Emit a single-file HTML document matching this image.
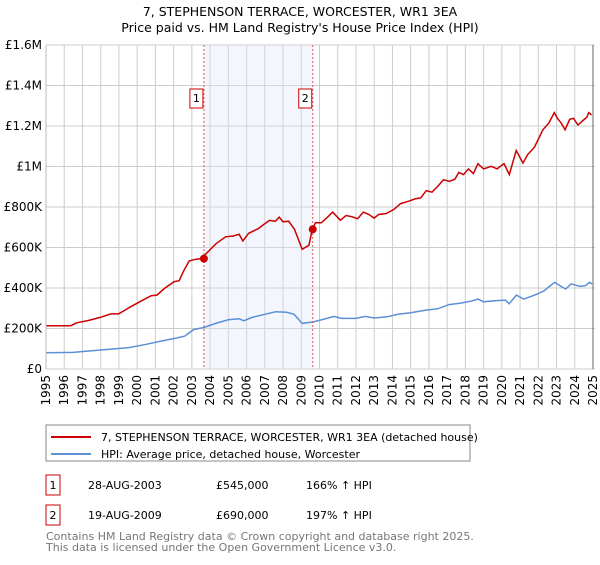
<!DOCTYPE html>
<html><head><meta charset="utf-8"><style>
body{margin:0;background:#fff;font-family:"Liberation Sans","DejaVu Sans",sans-serif;}
svg text{font-family:"DejaVu Sans","Liberation Sans",sans-serif;}
</style></head><body>
<svg id="c" width="600" height="560" viewBox="0 0 600 560" xmlns="http://www.w3.org/2000/svg">
<text x="300" y="16" text-anchor="middle" font-size="12.5">7, STEPHENSON TERRACE, WORCESTER, WR1 3EA</text>
<text x="300" y="32" text-anchor="middle" font-size="12.5">Price paid vs. HM Land Registry's House Price Index (HPI)</text>
<g id="grid"></g><g id="band"></g><g id="series"></g><g id="axes"></g>
<rect x="46" y="425" width="424" height="36" fill="#fff" stroke="#888"/>
<line x1="51" y1="437" x2="91" y2="437" stroke="#cc0000" stroke-width="2"/>
<text x="101" y="441" font-size="11">7, STEPHENSON TERRACE, WORCESTER, WR1 3EA (detached house)</text>
<line x1="51" y1="454" x2="91" y2="454" stroke="#5b8fd6" stroke-width="2"/>
<text x="101" y="458" font-size="11">HPI: Average price, detached house, Worcester</text>
<g font-size="11">
<rect x="46" y="475" width="14" height="20" fill="#fff" stroke="#cc0000"/>
<text x="53" y="489" text-anchor="middle">1</text>
<text x="88" y="489">28-AUG-2003</text>
<text x="216" y="489">£545,000</text>
<text x="306" y="489">166% ↑ HPI</text>
<rect x="46" y="505" width="14" height="20" fill="#fff" stroke="#cc0000"/>
<text x="53" y="519" text-anchor="middle">2</text>
<text x="88" y="519">19-AUG-2009</text>
<text x="216" y="519">£690,000</text>
<text x="306" y="519">197% ↑ HPI</text>
</g>
<text x="46" y="540" font-size="11" fill="#777">Contains HM Land Registry data © Crown copyright and database right 2025.</text>
<text x="46" y="551" font-size="11" fill="#777">This data is licensed under the Open Government Licence v3.0.</text>
</svg>
<script>
const yTicks=[0,200,400,600,800,1000,1200,1400,1600];
const yTickLabels=["£0","£200K","£400K","£600K","£800K","£1M","£1.2M","£1.4M","£1.6M"];
const years=[1995,1996,1997,1998,1999,2000,2001,2002,2003,2004,2005,2006,2007,2008,2009,2010,2011,2012,2013,2014,2015,2016,2017,2018,2019,2020,2021,2022,2023,2024,2025];
const saleDates=[2003.66,2009.63];
const salePrices=[545,690];
const saleLabels=["1","2"];
const redT=[1995,1996.36,1996.68,1997.3,1997.98,1998.56,1998.98,1999.6,2000.24,2000.77,2001.08,2001.5,2002.02,2002.3,2002.55,2002.86,2003.22,2003.55,2003.8,2004.33,2004.85,2005.27,2005.59,2005.8,2006.11,2006.64,2006.95,2007.26,2007.58,2007.79,2008,2008.31,2008.63,2009.05,2009.42,2009.61,2009.78,2010.1,2010.41,2010.72,2011.14,2011.46,2011.77,2012.09,2012.4,2012.71,2013,2013.24,2013.66,2014.08,2014.45,2014.92,2015.23,2015.55,2015.86,2016.17,2016.49,2016.8,2017.12,2017.43,2017.64,2017.9,2018.17,2018.44,2018.69,2019,2019.42,2019.74,2020.12,2020.41,2020.79,2021.16,2021.41,2021.79,2022.25,2022.57,2022.88,2023.05,2023.26,2023.47,2023.72,2023.93,2024.18,2024.45,2024.66,2024.77,2024.92];
const redV=[214,214,228,239,255,272,272,305,337,362,365,398,431,436,485,534,542,545,572,619,653,657,665,632,670,693,714,734,730,750,727,730,690,591,611,693,722,722,747,775,735,758,752,742,775,763,745,763,768,788,817,829,840,845,881,873,902,935,927,938,971,960,988,965,1014,988,1001,988,1014,960,1079,1017,1058,1096,1181,1214,1266,1238,1214,1181,1233,1238,1205,1227,1243,1266,1255];
const hpiT=[1995,1996.5,1997.5,1998.5,1999.5,2000.5,2001.3,2002,2002.6,2003.1,2003.66,2004.3,2005,2005.6,2005.85,2006.3,2007,2007.6,2008.2,2008.6,2009.05,2009.63,2010.2,2010.8,2011.2,2012,2012.5,2013,2013.7,2014.3,2015,2015.8,2016.5,2017.1,2017.7,2018.3,2018.7,2019,2019.7,2020.2,2020.4,2020.8,2021.2,2021.8,2022.3,2022.9,2023.3,2023.5,2023.8,2024.3,2024.6,2024.8,2024.95];
const hpiV=[80,82,90,98,105,122,138,150,162,195,205,225,243,248,238,255,270,283,280,270,225,232,245,260,250,250,260,252,258,270,278,290,298,318,325,335,345,332,338,340,322,365,345,365,385,428,405,395,420,408,412,428,420];
const X0=46,X1=593,Y0=369,Y1=45;
const xS=t=>X0+(t-1995)*(X1-X0)/30;
const yS=v=>Y0-v*(Y0-Y1)/1600;
const NS="http://www.w3.org/2000/svg";
function mk(tag,attrs,parent,txt){const e=document.createElementNS(NS,tag);for(const k in attrs)e.setAttribute(k,attrs[k]);if(txt!==undefined)e.textContent=txt;(typeof parent==='string'?document.getElementById(parent):parent).appendChild(e);return e;}
yTicks.forEach((v,i)=>{
 const l=mk('line',{x1:X0,x2:595,y1:yS(v),y2:yS(v),stroke:'#ccc','stroke-width':1},'grid');
 
 
 const t=mk('text',{x:X0-4,y:yS(v)+4,'text-anchor':'end','font-size':12},'axes',yTickLabels[i]);
 
 
});
years.forEach(y=>{
 const l=mk('line',{x1:xS(y),x2:xS(y),y1:Y1,y2:Y0,stroke:'#ccc','stroke-width':1},'grid');
 
 
 const g=mk('g',{transform:'translate('+(xS(y)+4)+','+(Y0+6)+') rotate(-90)'},'axes');
 const t=mk('text',{x:0,y:0,'text-anchor':'end','font-size':12},g,String(y));
 
 
});
const bl=mk('line',{x1:X0,x2:X0,y1:Y1,y2:Y0,stroke:'#bbb'},'axes');


const br=mk('line',{x1:X1,x2:X1,y1:Y1,y2:Y0,stroke:'#666'},'axes');


const band=mk('rect',{x:xS(saleDates[0]),y:Y1,width:xS(saleDates[1])-xS(saleDates[0]),height:Y0-Y1,fill:'#dde6fa','fill-opacity':0.35},'band');


function path(T,V){return T.map((t,i)=>(i?'L':'M')+xS(t).toFixed(1)+','+yS(V[i]).toFixed(1)).join('');}
const hp=mk('path',{d:path(hpiT,hpiV),fill:'none',stroke:'#5b8fd6','stroke-width':1.5},'series');


const rp=mk('path',{d:path(redT,redV),fill:'none',stroke:'#cc0000','stroke-width':1.5},'series');


saleDates.forEach((d,i)=>{
 const l=mk('line',{x1:xS(d),x2:xS(d),y1:Y1,y2:Y0,stroke:'#e05050','stroke-dasharray':'2,2'},'series');
 
 
 const c=mk('circle',{cx:xS(d),cy:yS(salePrices[i]),r:4,fill:'#cc0000'},'series');
 
 
 const r=mk('rect',{x:xS(d)-14,y:89,width:13,height:19,fill:'#fff',stroke:'#cc0000'},'series');
 
 
 const t=mk('text',{x:xS(d)-7.5,y:102,'text-anchor':'middle','font-size':11},'series',saleLabels[i]);
 
 
});
</script>
</body></html>
